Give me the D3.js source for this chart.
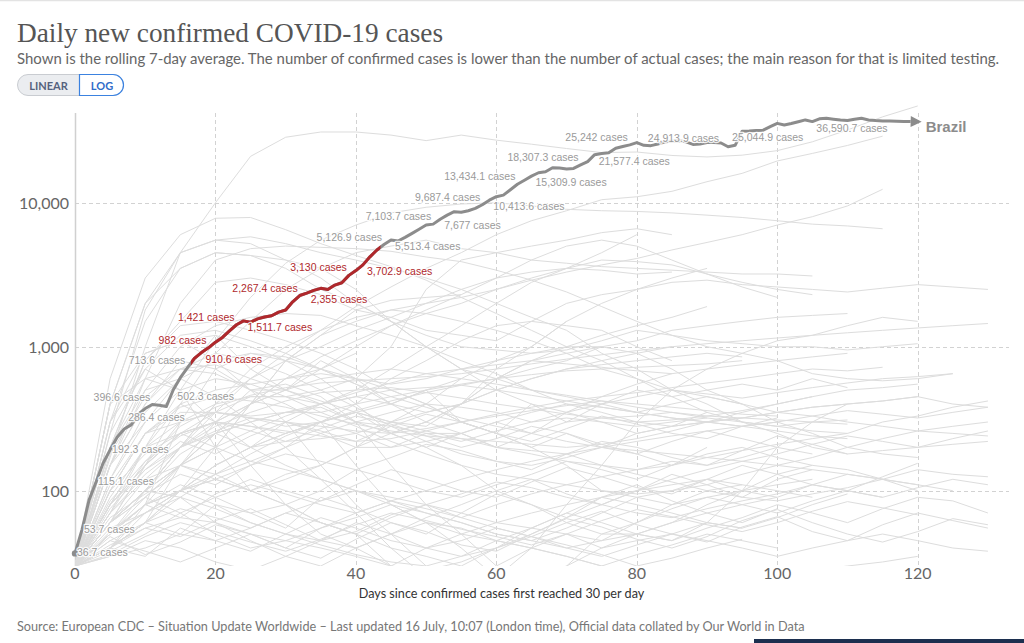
<!DOCTYPE html>
<html><head><meta charset="utf-8">
<script src="https://cdn.jsdelivr.net/npm/d3@7"></script>
<style>
html,body{margin:0;padding:0;background:#fff;}
svg{display:block;}
</style></head><body>
<svg id="chart" width="1024" height="643"></svg>
<script>
// ---------- DATA ----------
const titleText = "Daily new confirmed COVID-19 cases";
const subtitleText = "Shown is the rolling 7-day average. The number of confirmed cases is lower than the number of actual cases; the main reason for that is limited testing.";
const sourceText = "Source: European CDC – Situation Update Worldwide – Last updated 16 July, 10:07 (London time), Official data collated by Our World in Data";
const xAxisTitle = "Days since confirmed cases first reached 30 per day";
const scaleButtons = ["LINEAR", "LOG"];
const xTicks = [0, 20, 40, 60, 80, 100, 120];
const yTicks = [100, 1000, 10000];
const highlightedCountry = "Brazil";

// Brazil, one value per day starting at day 0
const brazilCases = [36.7,53.7,86,115.1,155,192.3,235,268,286.4,340,
  372,396.6,392,384,502.3,610,713.6,830,910.6,982,
  1075,1160,1290,1421,1511.7,1480,1560,1610,1640,1740,
  1800,2050,2267.4,2355,2460,2545,2500,2680,2780,3130,
  3380,3702.9,4211,4700,5126.9,5513.4,5420,5750,6128,6550,
  6996,7103.7,7677,8200,8666,8585,8800,9130,9687.4,10413.6,
  11020,11300,12300,13434.1,14340,15309.9,16150,16400,17520,17400,
  17150,17300,18307.3,19300,21577.4,22000,22240,23930,24600,25242,
  26160,25060,24913.9,25600,26490,26700,26930,26500,25420,25600,
  26160,26200,26000,24500,25044.9,31400,31500,31700,31900,33800,
  35600,34700,35500,36500,37600,36590.7,38300,38600,38000,37500,
  37200,38000,38600,37600,37200,37000,36900,36800,36700,36600];
const highlightDays = [16.5, 43.5];   // red stretch of the Brazil line
const labelDays = [0,1,3,5,8,11,14,16,18,19,23,24,32,33,39,41,44,45,51,52,58,59,63,65,72,74,79,82,94,105];
const labelPlacement = ['M','M','M','M','A','L','R','L','R','L','L','R','L','R','L','R','L','R','L','R','L','R','L','R','L','R','L','A','A','R'];

// Other countries: values every 5 days starting at day 0
const bgStep = 5;
const bgSeries = [
 [30,170,1000,4500,10000,21000,28500,31000,31000,29500,27000,29500,27200,25500,23800,22300,22500,21300,20800,21400,23000,26500,32000,39500,47000],
 [30,600,3000,6000,7800,7900,6500,5200,4300,3600,2900,2200,1700,1300,1000,800,600,450,350,300,280,260,250,300,330,380,420],
 [30,400,2000,4500,5500,5800,5200,4500,4000,3500,3000,2500,2000,1600,1300,900,700,500,400,300,250,200,180,190,200,210,220],
 [30,150,600,2000,4000,4800,5000,4900,4800,4600,4200,3900,3400,2900,2400,1900,1500,1200,1000,900,800,650,600,580,600,650],
 [30,300,1500,3500,4500,4300,4000,3500,2500,1500,1000,700,500,400,300,400,500,450,500,550,500,600,520],
 [30,250,1800,4500,5500,5200,4000,3000,2000,1500,1000,700,600,500,450,400,350,400,450,400,350,380,400,420,450,400,380],
 [30,70,200,500,1100,2200,3800,5500,7000,8500,9300,9800,10000,9500,9000,8800,8700,8500,8200,7900,7500,7100,6900,6600],
 [30,60,100,200,350,600,900,1300,1900,2600,3500,4500,6000,7500,8800,10500,11000,12000,14000,16000,19500,22000,25000,29000],
 [30,60,90,150,250,400,600,850,1100,1400,1700,2000,2500,2900,3300,3700,4100,4700,5300,6000,7000,8000,9500,12400],
 [30,60,150,400,900,1500,2500,3500,4500,5000,5500,4800,4500,4000,3800,3600,3500,3400,3300,3200,3200,3100],
 [30,80,150,250,350,450,450,500,600,1000,2500,4000,4500,5000,5500,6200,6600,6000],
 [30,200,800,1500,2800,3000,2700,2300,1800,1600,1300,1200,1100,1500,2000,2300,2500,2800,2900,2700,2600,2500,2400,2550,2700,2600,2500],
 [30,400,2000,3500,4500,4300,3500,2500,2000,1500,1200,1000,950,900,950,1100,1300,1200,1100,1050,1000,1000,950,1000,1050],
 [30,150,500,1000,1400,1600,1700,1650,1400,1200,1000,800,650,500,400,350,300,280,300,320,350,380,400,420,450],
 [30,60,100,150,200,400,800,1200,1500,1800,2000,2200,2500,3000,3500,4000,3900,3700,3200,2800,2500,2300],
 [30,80,150,250,300,400,500,700,1000,1400,1800,2300,3000,4000,5000,5500,5000,4000,3200,2600,2200],
 [30,50,100,200,400,600,800,1000,1300,1600,2000,2500,3000,3300,3500,3400,3200,3300],
 [30,50,80,100,150,200,300,400,500,700,1000,1400,2000,2800,3500,4500,6000],
 [30,60,100,200,400,700,1000,1300,1600,1800,1700,1500,1300,1100,900,700,600,500,450,400],
 [30,200,800,1400,1500,1300,1100,900,700,500,400,300,250,200,150,100,90,80,90,100,110,120],
 [30,300,900,1100,1200,1000,800,600,400,250,200,150,100,80,60,50,50,60,80,100,130,150,140,120,110],
 [30,80,200,400,500,550,600,650,600,550,600,700,800,900,1000,1000,900,700,500,400,300,250,200,180,170],
 [30,400,900,1100,800,500,300,150,80,50,30,20,15,20,30,50,60,80,100,110],
 [30,150,300,600,1200,700,500,800,600,400,500,300,250,400,350,300,250,280,350],
 [30,200,600,700,650,500,500,400,300,250,200,250,300,250,300,320,330,350,320,300,280,300,310],
 [30,40,60,150,300,500,550,450,300,150,80,50,30,25,30,40,50,45,60,100,200,300,400],
 [30,60,100,200,250,200,220,230,250,300,350,400,600,800,1000,1200,1400,1600,1900],
 [30,60,100,150,250,300,350,350,400,450,500,550,600,700,800,1000,1100,1300,1400,1500,1600,1650,1700],
 [30,50,80,100,120,150,200,300,400,600,800,1100,1400,1500,1400,1300,1000,800],
 [30,50,80,100,120,100,120,150,200,300,400,600,800,1000,1500,2000,2500,3000,3500],
 [30,200,500,600,450,300,200,120,70,40,25,20,25,40,80,150,300,500,700,900,1100,1200,1400,1600,1500],
 [30,60,150,300,400,450,450,400,450,400,350,400,500,600,700,750,800,850,900,850],
 [30,100,250,350,350,330,350,380,300,350,400,380,350,300,320,300,280,300,320],
 [30,100,250,300,350,320,300,250,200,200,250,250,200,250,350,450,550,650],
 [30,150,400,800,700,500,400,300,150,80,60,40,25,18,15,15,18,15,12,15,20,25,20,18,20],
 [30,300,700,500,300,150,80,50,40,30,40,50,60,70,80,90,100,110,120,110,100,90],
 [30,40,80,300,700,900,800,700,600,500,400,300,250,200,250,200,180,150,200],
 [30,80,200,250,300,280,250,300,350,300,280,400,500,600,700,800,900,1000],
 [30,60,100,150,120,100,130,150,200,250,300,400,600,800,900,1000],
 [30,50,70,100,150,200,250,300,350,250,300,400,700,1000,1500],
 [30,40,60,100,200,400,800,1200,1800,2100,2200,2300],
 [30,40,60,100,150,200,250,300,350,400,500,600],
 [30,50,80,150,250,400,600,700,900],
 [30,400,600,500,200,100,80,60,50,30,20,25,30,40,50,40,45,50,45,40,35,40,45,50,45,40,38],
 [30,45,60,50,80,70,55,90,75,60,50,70,95,80,65,90,110,85,70,60,75],
 [30,40,35,55,45,38,50,65,55,45,40,35,45,55,70,60,50,45,55,65,80,70,60,75,90,85,70],
 [30,55,70,90,60,45,35,30,40,50,65,80,100,120,95,80,100,130,110,90,120,140],
 [30,35,45,40,32,28,35,45,60,50,40,45,55,48,40,35,42,50,60,55],
 [30,50,80,110,90,70,80,100,140,120,100,90,110,130,160,140,120,150,180,200,170,150],
 [30,60,90,70,50,40,45,55,65,80,70,60,50,45,55,70,90,100,120,100,90,110,130,120,100],
 [30,40,60,75,65,55,70,85,100,90,80,95,115,105,90,80,70,65,75,85,95,110,100,90,105,120,110],
 [30,45,38,32,40,50,45,40,35,30,28,32,40,48,42,36,30,34,40,46],
 [30,70,120,150,130,100,80,60,50,40,35,30,40,55,70,90,80,70,60,55,65,80,95],
 [30,38,50,70,90,110,95,80,70,85,100,120,140,160,180,150,130,115,100,90,85,95,105,120,140,130,125],
 [30,50,70,100,130,160,140,120,100,85,70,60,50,45,40,45,50,60,70,80,90],
 [30,40,55,65,60,50,40,55,70,85,75,65,80,95,110,125,140,160,150,170,200,180],
 [30,35,40,50,45,55,70,60,50,65,80,70,60,55,50,45,60,75,90,80,70,85,100,90],
 [30,60,100,90,75,60,50,42,36,32,30,35,40,50,65,80,100,120,140,160,180,210,240,220,200,230,260],
 [30,40,70,100,80,60,50,45,40,50,60,55,45,40,35,30,36,42,50,45,40],
 [30,90,200,300,350,320,280,300,250,200,220,250,300,350,400,380,350,320,300,280,300,330,360,340,320,350,380],
 [30,80,150,250,300,280,260,240,220,230,260,300,340,380,420,450,480,520,560,600,650,700,680,720],
 [30,120,300,500,600,550,450,350,280,220,180,150,130,120,110,100,95,100,110,130,150,170,200,230,260,280,300],
 [30,60,100,180,250,300,350,400,450,500,520,540,500,460,420,380,350,320,300,280,260,240,230],
 [30,100,180,250,200,160,200,250,300,280,250,220,260,300,350,400,450,500,470,440,480,520,560,600,620,650],
 [30,70,130,200,280,350,420,480,500,520,480,440,400,370,340,320,300,310,330,360,400,450,500,520,550],
 [30,150,400,700,900,800,650,500,380,280,220,180,160,150,170,200,250,280,300,320,350,330,300,280,260,250,240],
 [30,50,90,150,200,260,330,400,480,560,650,700,750,800,760,720,680,650,700,750,800,850,900],
 [30,80,140,200,260,320,300,280,260,250,270,300,330,360,390,420,400,380,360,340,330],
 [30,110,250,380,450,420,380,330,290,260,240,230,220,210,200,210,230,260,300,350,400,450],
 [30,40,60,90,130,180,240,300,360,420,480,540,600,640,680,700,720,740,760,800],
 [30,70,160,280,380,460,520,560,580,600,620,650,700,760,820,880,940,1000,1050,1100,1150,1200,1250,1300,1350,1400,1450],
 [30,60,120,200,300,400,500,600,650,700,650,600,550,500,460,420,380,350,330,320,310,300,290],
 [30,250,700,1200,1300,1100,900,700,550,400,300,250,200,180,160,150,140,150,170,190,210,230,250],
 [30,180,450,700,750,600,500,420,350,300,260,230,200,190,180,200,220,240,260,280,300],
 [30,120,350,600,800,900,850,700,550,450,380,320,280,250,220,200,190,180,170,160,150,140,130,120,110,100],
 [30,100,250,400,300,200,150,120,100,80,60,50,45,40,35,30,28,26,25,24,26,28,30,32,35],
 [30,42,55,48,62,75,58,45,52,68,80,65,55,48,60,72,58,50,44,56,66,52,45,58,70,62,55],
 [30,48,36,44,58,50,40,34,46,60,52,42,38,50,64,56,46,40,48,62,74,60,50,44,52,64,58],
 [30,65,95,130,110,150,180,160,140,170,210,190,160,140,180,220,200,170,150,190,240,210,180],
 [30,75,140,220,180,240,300,260,220,280,340,300,250,220,270,330,290,250,230,280,320],
 [30,52,80,65,95,120,100,85,110,140,120,100,90,115,145,125,105,95,120,150,130,110,100,125,155],
 [30,36,48,60,52,44,38,46,58,70,62,54,48,42,50,62,74,66,58,52,60,72,84,76,68],
 [30,85,160,240,300,260,220,270,330,290,240,200,230,280,250,210,180,220,260,230,200]
];

// ---------- CHART ----------
const svg = d3.select("#chart");
const W = 1024, H = 643;
const plot = {left: 75, right: 1009, top: 113, bottom: 566};

const x = d3.scaleLinear().domain([0, 133]).range([plot.left, plot.right]);
const y = d3.scaleLog().domain([30, 42000]).range([plot.bottom, plot.top]);

// top hairline
svg.append("line").attr("x1",0).attr("x2",W).attr("y1",0.5).attr("y2",0.5)
  .attr("stroke","#e3e3e3").attr("stroke-width",1.5);

function fitWidth(sel, target){
  const w = sel.node().getComputedTextLength();
  const fs = parseFloat(sel.attr("font-size"));
  sel.attr("font-size", (fs*target/w).toFixed(2));
}

// title + subtitle
const title = svg.append("text").attr("x",17).attr("y",42)
  .attr("font-family","'Liberation Serif', 'DejaVu Serif', serif").attr("font-size",28)
  .attr("fill","#555").text(titleText);
fitWidth(title, 426);
const sub = svg.append("text").attr("x",17).attr("y",64)
  .attr("font-family","Lato, 'Noto Sans', sans-serif").attr("font-size",14)
  .attr("fill","#666").text(subtitleText);
fitWidth(sub, 982);

// scale toggle buttons
const btn = svg.append("g");
btn.append("rect").attr("x",17.5).attr("y",74.5).attr("width",106).attr("height",21)
  .attr("rx",10.5).attr("fill","#ebedf0").attr("stroke","#c9ccd1");
btn.append("path")
  .attr("d","M79.5,74.5 H113 A10.5,10.5 0 0 1 113,95.5 H79.5 Z")
  .attr("fill","#fff").attr("stroke","#3b82e0").attr("stroke-width",1.2);
btn.append("text").attr("x",48.5).attr("y",89.5).attr("text-anchor","middle")
  .attr("font-family","Lato, sans-serif").attr("font-weight","bold").attr("font-size",11)
  .attr("fill","#55627d").text(scaleButtons[0]);
btn.append("text").attr("x",102).attr("y",89.5).attr("text-anchor","middle")
  .attr("font-family","Lato, sans-serif").attr("font-weight","bold").attr("font-size",11)
  .attr("fill","#2f6cc9").text(scaleButtons[1]);

// grid
const grid = svg.append("g");
grid.selectAll(".hg").data(yTicks).join("line")
  .attr("x1",plot.left).attr("x2",plot.right)
  .attr("y1",d=>Math.round(y(d))+0.5).attr("y2",d=>Math.round(y(d))+0.5)
  .attr("stroke","#d2d2d2").attr("stroke-dasharray","4,3");
grid.selectAll(".vg").data(xTicks.filter(d=>d>0)).join("line")
  .attr("x1",d=>Math.round(x(d))+0.5).attr("x2",d=>Math.round(x(d))+0.5)
  .attr("y1",plot.top).attr("y2",plot.bottom)
  .attr("stroke","#d2d2d2").attr("stroke-dasharray","4,3");
svg.append("line").attr("x1",plot.left+0.5).attr("x2",plot.left+0.5)
  .attr("y1",plot.top).attr("y2",plot.bottom).attr("stroke","#d0d0d0").attr("stroke-width",1.5);

// axis labels
svg.append("g").selectAll("text").data(yTicks).join("text")
  .attr("x",69).attr("y",d=>y(d)+6).attr("text-anchor","end")
  .attr("font-family","Lato, sans-serif").attr("font-size",16).attr("fill","#666")
  .text(d=>d3.format(",")(d));
svg.append("g").selectAll("text").data(xTicks).join("text")
  .attr("x",d=>x(d)).attr("y",579).attr("text-anchor","middle")
  .attr("font-family","Lato, sans-serif").attr("font-size",16).attr("fill","#666")
  .text(d=>d);
const xt = svg.append("text").attr("x",501.5).attr("y",598).attr("text-anchor","middle")
  .attr("font-family","Lato, sans-serif").attr("font-size",12).attr("fill","#333").text(xAxisTitle);
fitWidth(xt, 286);

// clip
svg.append("defs").append("clipPath").attr("id","plotclip").append("rect")
  .attr("x",plot.left).attr("y",92).attr("width",plot.right-plot.left+4).attr("height",plot.bottom-92);

const line = d3.line().x(d=>x(d[0])).y(d=>y(d[1]));

const bgG = svg.append("g").attr("clip-path","url(#plotclip)");
bgG.selectAll("path").data(bgSeries).join("path")
  .attr("d", s => line(s.map((v,i)=>[i*bgStep, v])))
  .attr("fill","none").attr("stroke","#dddddd").attr("stroke-width",1);

// Brazil
const bPts = brazilCases.map((v,i)=>[i,v]);
const bG = svg.append("g");
bG.append("path").attr("d", line(bPts)).attr("fill","none")
  .attr("stroke","#8c8c8c").attr("stroke-width",3).attr("stroke-linejoin","round");
svg.select("defs").append("clipPath").attr("id","redclip").append("rect")
  .attr("x",x(highlightDays[0])).attr("y",0)
  .attr("width",x(highlightDays[1])-x(highlightDays[0])).attr("height",H);
bG.append("path").attr("d", line(bPts)).attr("fill","none").attr("clip-path","url(#redclip)")
  .attr("stroke","#b0282c").attr("stroke-width",3).attr("stroke-linejoin","round");
bG.append("circle").attr("cx",x(0)).attr("cy",y(brazilCases[0])).attr("r",3.2).attr("fill","#8c8c8c");
// arrow at end
{
  const n = brazilCases.length-1;
  const x1 = x(n-1), y1 = y(brazilCases[n-1]), x2 = x(n), y2 = y(brazilCases[n]);
  const a = Math.atan2(y2-y1, x2-x1);
  const L = 11, hw = 5.5;
  const tx = x2 + Math.cos(a)*L, ty = y2 + Math.sin(a)*L;
  const p1 = [x2 - Math.sin(a)*hw, y2 + Math.cos(a)*hw];
  const p2 = [x2 + Math.sin(a)*hw, y2 - Math.cos(a)*hw];
  bG.append("path").attr("d",`M${tx},${ty}L${p1[0]},${p1[1]}L${p2[0]},${p2[1]}Z`).attr("fill","#8c8c8c");
  svg.append("text").attr("x",x(n)+15).attr("y",y(brazilCases[n])+10)
    .attr("font-family","'Liberation Sans', Arial, sans-serif").attr("font-weight","bold")
    .attr("font-size",15).attr("fill","#8c8c8c").text(highlightedCountry);
}

// value labels
const fmt = d3.format(",");
const place = {
  M: {dx: 2, dy: 3, anchor: "start"},
  A: {dx: -3, dy: -4, anchor: "start"},
  L: {dx: -2, dy: -4, anchor: "end"},
  R: {dx: 4, dy: 10, anchor: "start"}
};
svg.append("g").selectAll("text").data(labelDays.map((d,i)=>({d, p: labelPlacement[i]}))).join("text")
  .attr("x", o => x(o.d) + place[o.p].dx)
  .attr("y", o => y(brazilCases[o.d]) + place[o.p].dy)
  .attr("text-anchor", o => place[o.p].anchor)
  .attr("font-family","'Liberation Sans', Arial, sans-serif").attr("font-size",10.5)
  .attr("fill", o => (o.d>highlightDays[0] && o.d<highlightDays[1]) ? "#b0282c" : "#9a9a9a")
  .attr("stroke","#fff").attr("stroke-width",2.5).attr("stroke-opacity",0.85)
  .attr("paint-order","stroke").attr("stroke-linejoin","round")
  .text(o => fmt(brazilCases[o.d]) + " cases");

// footer
const foot = svg.append("text").attr("x",17).attr("y",631)
  .attr("font-family","Lato, sans-serif").attr("font-size",13).attr("fill","#777").text(sourceText);
fitWidth(foot, 788);
svg.append("rect").attr("x",754).attr("y",639).attr("width",270).attr("height",4).attr("fill","#1c2f4f");
</script>
</body></html>
